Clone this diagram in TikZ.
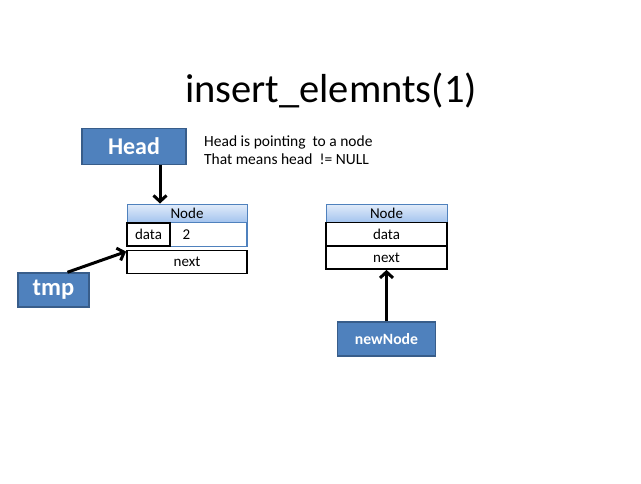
\documentclass[tikz,border=0pt]{standalone}
\usepackage{fontspec}
\setmainfont{Carlito}
\usepackage{tikz}
\usepackage{xcolor}
\usetikzlibrary{arrows.meta,positioning}
\definecolor{boxfill}{RGB}{79,129,189}
\definecolor{boxline}{RGB}{56,93,138}
\definecolor{hdrtop}{RGB}{226,236,250}
\definecolor{hdrbot}{RGB}{164,196,238}

\begin{document}
\begin{tikzpicture}[x=1pt,y=-1pt,
		ptr/.style={line width=3pt, -{Straight Barb[length=6pt,width=13pt,line width=3pt]}},
		bluebox/.style={draw=boxline, line width=1.5pt, fill=boxfill, text=white, font=\bfseries},
		hdr/.style={draw=boxfill, line width=1pt, top color=hdrtop, bottom color=hdrbot, minimum width=120pt, minimum height=18pt, inner sep=0pt, font=\fontsize{15}{17}\selectfont},
		field/.style={draw=black, line width=1.8pt, fill=white, minimum width=120pt, minimum height=23pt, inner sep=0pt, font=\fontsize{15}{17}\selectfont}]
			\useasboundingbox (0,0) rectangle (641,483);
			\node[anchor=base, font=\fontsize{40.5}{44}\selectfont] (title) at (331,102) {insert\_elemnts(1)};
			\node[bluebox, minimum width=104pt, minimum height=36pt, font=\fontsize{24}{28}\bfseries] (head) at (134,146.5) {Head};
			\node[anchor=base west, align=left, inner sep=0pt, font=\fontsize{15.5}{18.5}\selectfont] (note) at (204,164.5) {Head is pointing\ \ to a node\\That means head\ \ != NULL};
			% first node
			\node[hdr] (hdr1) at (187,213) {Node};
			\node[field, draw=boxfill, minimum height=24pt] (row1) at (187,234.5) {};
			\node[field, minimum width=43pt, anchor=west] (data1) at (row1.west) {data};
			\node[font=\fontsize{15}{17}\selectfont] (val1) at (186.5,234.5) {2};
			\node[field] (next1) at (187,262) {next};
			% second node
			\node[hdr, minimum width=121pt] (hdr2) at (386.5,213) {Node};
			\node[field, minimum width=121pt] (data2) at (386.5,234) {data};
			\node[field, minimum width=121pt] (next2) at (386.5,257.5) {next};
			\node[bluebox, minimum width=71pt, minimum height=34pt, font=\fontsize{24.5}{28}\bfseries] (tmp) at (53.5,290) {tmp};
			\node[bluebox, minimum width=98pt, minimum height=34pt, font=\fontsize{15.7}{18}\bfseries] (newnode) at (386.5,339) {newNode};
			\draw[ptr] ([xshift=26pt]head.south) -- ([xshift=26pt]head.south |- hdr1.north);
			\draw[ptr] ([xshift=14pt]tmp.north) -- ([yshift=-2pt]next1.north west);
			\draw[ptr] (newnode.north) -- (next2.south);
	    \end{tikzpicture}
\end{document}
